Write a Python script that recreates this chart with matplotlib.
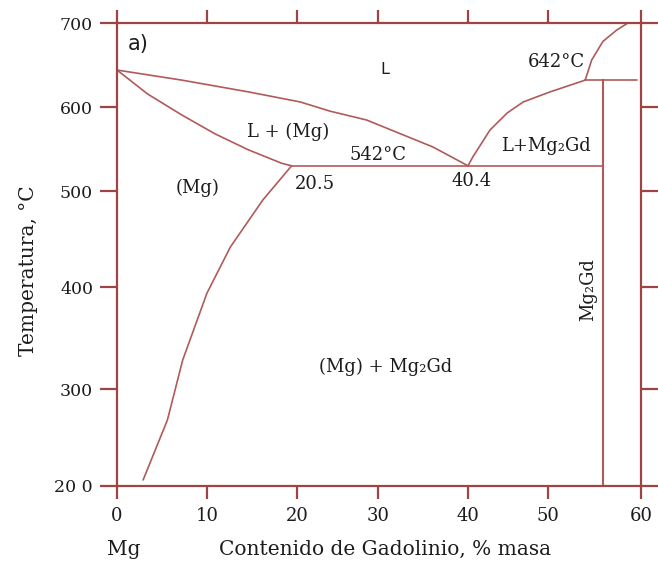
import numpy as np
import matplotlib.pyplot as plt

# printed ticks and where they fall along each axis of the sketch (spacing is not even)
X_TICKS = [0, 10, 20, 30, 40, 50, 60]
X_TICK_POS = [0, 90, 180, 261, 351, 431, 524]
Y_TICKS = [200, 300, 400, 500, 600, 700]
Y_TICK_POS = [0, 97, 199, 295, 379, 463]
Y_TICK_LABELS = ["20 0", "300", "400", "500", "600", "700"]

# phase boundaries (wt.% Gd, degC)
SOLIDUS_X = [0, 3.4, 7.2, 10.9, 14.6, 18.3, 19.4]
SOLIDUS_Y = [644, 615.5, 590.5, 568, 549, 533, 530]
LIQ_MG_X = [0, 7.2, 14.6, 20.4, 24.1, 28.6, 36.1, 40.0]
LIQ_MG_Y = [644, 632, 618, 606, 595, 584.5, 552.4, 530]
LIQ_GD_X = [40.0, 40.6, 42.75, 44.9, 46.9, 50.2, 54.0]
LIQ_GD_Y = [530, 540.5, 572.6, 592.9, 606, 617.9, 632]
LIQ_TOP_X = [54.0, 54.7, 55.9, 57.4, 58.6]
LIQ_TOP_Y = [632, 656, 678, 691.7, 700]
SOLVUS_X = [19.4, 16.2, 12.6, 10.0, 7.3, 5.6, 2.9]
SOLVUS_Y = [530, 490.6, 441.7, 394.1, 328.4, 268, 206.2]

EUTECTIC_T = 530
EUTECTIC_X = [19.4, 55.9]
PERITECTIC_T = 632
PERITECTIC_X = [54.0, 59.6]
COMPOUND_X = 55.9
COMPOUND_T = [200, 632]

SPINE = "#9e4444"
CURVE = "#b05a5a"
TEXT = "#1c1c1c"
SERIF = ["DejaVu Serif", "DejaVu Sans"]


def piecewise(src, dst):
    src = np.asarray(src, float)
    dst = np.asarray(dst, float)
    lo_slope = (dst[1] - dst[0]) / (src[1] - src[0])
    hi_slope = (dst[-1] - dst[-2]) / (src[-1] - src[-2])

    def f(v):
        v = np.asarray(v, float)
        out = np.interp(v, src, dst)
        out = np.where(v < src[0], dst[0] + (v - src[0]) * lo_slope, out)
        out = np.where(v > src[-1], dst[-1] + (v - src[-1]) * hi_slope, out)
        return out
    return f


fig = plt.figure(figsize=(6.58, 5.67), dpi=100)
ax = fig.add_axes([117 / 658, 1 - 486 / 567, 524 / 658, 463 / 567])

ax.set_xscale("function", functions=(piecewise(X_TICKS, X_TICK_POS), piecewise(X_TICK_POS, X_TICKS)))
ax.set_yscale("function", functions=(piecewise(Y_TICKS, Y_TICK_POS), piecewise(Y_TICK_POS, Y_TICKS)))
ax.set_xlim(0, 60)
ax.set_ylim(200, 700)

# boundaries
kw = dict(color=CURVE, lw=1.2, solid_capstyle="round", solid_joinstyle="round")
ax.plot(SOLIDUS_X, SOLIDUS_Y, **kw)
ax.plot(LIQ_MG_X, LIQ_MG_Y, **kw)
ax.plot(LIQ_GD_X, LIQ_GD_Y, **kw)
ax.plot(LIQ_TOP_X, LIQ_TOP_Y, **kw)
ax.plot(SOLVUS_X, SOLVUS_Y, **kw)
ax.plot(EUTECTIC_X, [EUTECTIC_T, EUTECTIC_T], **kw)
ax.plot(PERITECTIC_X, [PERITECTIC_T, PERITECTIC_T], **kw)
ax.plot([COMPOUND_X, COMPOUND_X], COMPOUND_T, color=CURVE, lw=1.5)

# frame and ticks
for s in ax.spines.values():
    s.set_color(SPINE)
    s.set_linewidth(1.6)
ax.set_xticks(X_TICKS)
ax.set_yticks(Y_TICKS, Y_TICK_LABELS)
ax.minorticks_off()
ax.tick_params(axis="x", top=True, bottom=True, direction="out", length=9.2,
               width=1.6, color=SPINE, pad=6, labelsize=13, labelcolor=TEXT)
ax.tick_params(axis="y", left=True, right=True, direction="out", length=12.2,
               width=1.6, color=SPINE, pad=5, labelsize=12.5, labelcolor=TEXT)
for lab in ax.get_xticklabels() + ax.get_yticklabels():
    lab.set_family(SERIF)

ax.set_xlabel("Contenido de Gadolinio, % masa", fontsize=14.5, family=SERIF, color=TEXT)
ax.xaxis.set_label_coords(0.511, -0.117)
ax.xaxis.label.set_va("top")
ax.set_ylabel("Temperatura, °C", fontsize=14.5, family=SERIF, color=TEXT)
ax.yaxis.set_label_coords(-0.151, 0.466)
ax.text(0.7, -0.117, "Mg", transform=ax.get_xaxis_transform(),
        ha="center", va="top", fontsize=14.5, family=SERIF, color=TEXT)

# region labels
ax.text(1.2, 675, "a)", ha="left", va="center", fontsize=15, family="DejaVu Sans", color=TEXT)
ax.text(30.8, 645, "L", ha="center", va="center", fontsize=11.5, family="DejaVu Sans", color=TEXT)
ax.text(50.9, 653.6, "642°C", ha="center", va="center", fontsize=13, family=SERIF, color=TEXT)
ax.text(19.0, 570, "L + (Mg)", ha="center", va="center", fontsize=13, family=SERIF, color=TEXT)
ax.text(30.0, 543, "542°C", ha="center", va="center", fontsize=13, family=SERIF, color=TEXT)
ax.text(22.2, 508, "20.5", ha="center", va="center", fontsize=13, family=SERIF, color=TEXT)
ax.text(40.5, 512, "40.4", ha="center", va="center", fontsize=13, family=SERIF, color=TEXT)
ax.text(49.75, 553.6, "L+Mg\u2082Gd", ha="center", va="center", fontsize=13, family=SERIF, color=TEXT)
ax.text(8.9, 504, "(Mg)", ha="center", va="center", fontsize=13, family=SERIF, color=TEXT)
ax.text(30.9, 321.6, "(Mg) + Mg\u2082Gd", ha="center", va="center", fontsize=13, family=SERIF, color=TEXT)
ax.text(54.3, 397, "Mg\u2082Gd", ha="center", va="center", rotation=90, fontsize=13, family=SERIF, color=TEXT)

fig.savefig("out.png", dpi=100)
